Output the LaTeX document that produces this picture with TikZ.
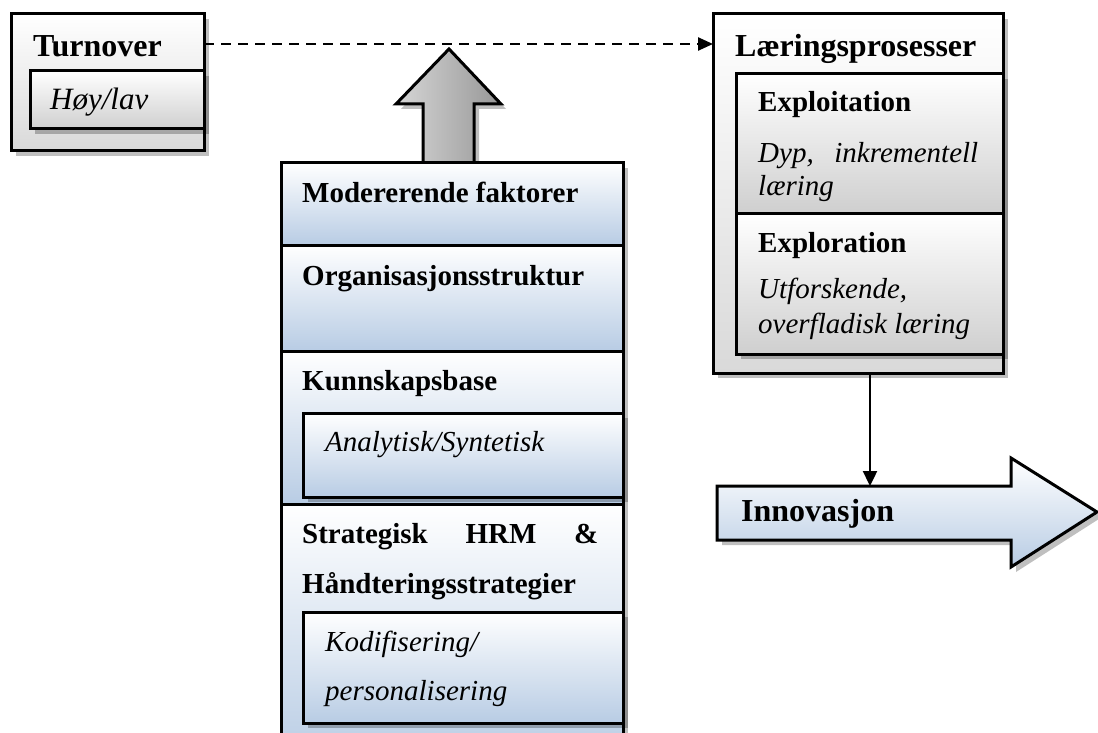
\documentclass[tikz,border=0pt]{standalone}
\usepackage{fontspec}
\setmainfont{Liberation Serif}
\usetikzlibrary{calc,shadows,arrows.meta}

\definecolor{paleblue}{HTML}{B8CCE4}
\definecolor{palegray}{HTML}{D9D9D9}
\definecolor{midgray}{HTML}{CFCFCF}
\definecolor{arrowlight}{HTML}{D6D6D6}
\definecolor{arrowdark}{HTML}{979797}

\tikzset{
  softshadow/.style={drop shadow={shadow xshift=5pt, shadow yshift=-5pt, fill=black, opacity=0.25}},
  frame/.style={draw=black, line width=3pt, anchor=north west, inner sep=0pt,
                outer sep=0pt, softshadow},
  bluebox/.style={frame, top color=white, bottom color=paleblue},
  graybox/.style={frame, top color=white, bottom color=palegray},
  darkbox/.style={frame, top color=white, bottom color=midgray},
  lbl/.style={anchor=base west, inner sep=0pt, font=\fontsize{29}{34}\selectfont},
  bold/.style={lbl, font=\fontsize{29}{34}\selectfont\bfseries},
  ital/.style={lbl, font=\fontsize{29}{34}\selectfont\itshape},
  bigbold/.style={lbl, font=\fontsize{32}{38}\selectfont\bfseries},
  link/.style={draw=black, line width=2.4pt},
}

\begin{document}
\begin{tikzpicture}[x=1pt, y=1pt]
\useasboundingbox (0,0) rectangle (1098,-733);
\clip (0,0) rectangle (1098,-733);

% upward block arrow above the stack
\path[draw=black, line width=3pt, left color=arrowlight, right color=arrowdark, softshadow]
  (423,-170) -- (423,-104) -- (396,-104) -- (449,-49) -- (501,-104)
  -- (474,-104) -- (474,-170) -- cycle;

% Turnover
\node[graybox, minimum width=193pt, minimum height=137pt] (turn) at (11,-14) {};
\node[darkbox, minimum width=174pt, minimum height=58pt] (turnin) at (30,-71) {};
\node[bigbold] (turnlbl) at (33,-57) {Turnover};
\node[ital, font=\fontsize{31}{36}\selectfont\itshape] (hoylav) at (50,-110) {Høy/lav};

% moderating factors stack
\node[bluebox, minimum width=342pt, minimum height=82pt]  (mod)   at (281,-163) {};
\node[bluebox, minimum width=342pt, minimum height=106pt] (org)   at (281,-245) {};
\node[bluebox, minimum width=342pt, minimum height=153pt] (kunn)  at (281,-351) {};
\node[bluebox, minimum width=320pt, minimum height=84pt]  (analy) at (303,-413) {};
\node[bluebox, minimum width=342pt, minimum height=260pt] (strat) at (281,-504) {};
\node[bluebox, minimum width=320pt, minimum height=111pt] (kodi)  at (303,-612) {};

\node[bold] (modlbl)   at (302,-202) {Modererende faktorer};
\node[bold] (orglbl)   at (302,-285) {Organisasjonsstruktur};
\node[bold] (kunnlbl)  at (302,-390) {Kunnskapsbase};
\node[ital] (analylbl) at (325,-451) {Analytisk/Syntetisk};
\node[bold] (stratlbl) at (302,-543) {\makebox[296pt][s]{Strategisk HRM \&}};
\node[bold] (handlbl)  at (302,-593) {Håndteringsstrategier};
\node[ital] (kodilbl)  at (325,-651) {Kodifisering/};
\node[ital] (perslbl)  at (325,-700) {personalisering};

% learning processes
\node[graybox, minimum width=290pt, minimum height=359pt] (laer)  at (713,-14) {};
\node[darkbox, minimum width=267pt, minimum height=139pt] (exploit) at (736,-74) {};
\node[darkbox, minimum width=267pt, minimum height=141pt] (explor)  at (736,-213) {};

\node[bigbold] (laerlbl) at (735,-57)  {Læringsprosesser};
\node[bold] (exptlbl)  at (758,-112) {Exploitation};
\node[ital] (dyplbl)   at (758,-163) {\makebox[220pt][s]{Dyp, inkrementell}};
\node[ital] (laer1)    at (758,-195) {læring};
\node[bold] (explrlbl) at (758,-252) {Exploration};
\node[ital] (utflbl)   at (758,-298) {Utforskende,};
\node[ital] (overlbl)  at (758,-333) {overfladisk læring};

% innovation block arrow
\path[draw=black, line width=3pt, top color=white, bottom color=paleblue, softshadow]
  (717,-486) -- (1011,-486) -- (1011,-458) -- (1097,-512) -- (1011,-567)
  -- (1011,-540) -- (717,-540) -- cycle;
\coordinate (innovtop) at (864,-486);
\node[bigbold] (innov) at (741,-521) {Innovasjon};

% connectors
\draw[link, dash pattern=on 10pt off 7pt,
      -{Triangle[length=15pt,width=13pt]}]
  ($(turn.north east)+(0,-30)$) -- ($(laer.north west)+(0,-30)$);
\coordinate (dtop) at ($(laer.south west)+(157,0)$);
\draw[link, -{Triangle[length=15pt,width=14pt]}] (dtop) -- (dtop |- innovtop);
\end{tikzpicture}
\end{document}
